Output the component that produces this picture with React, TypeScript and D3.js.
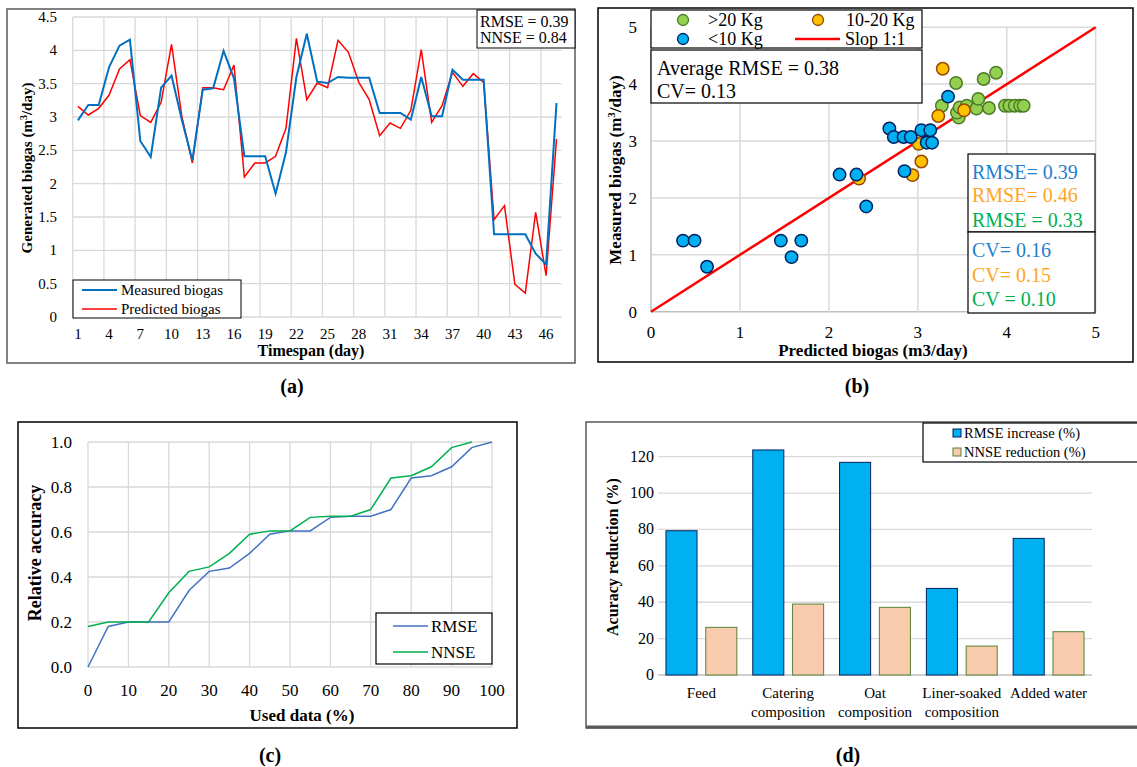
import * as d3 from "d3";

const FONT = "'Liberation Serif', 'Times New Roman', serif";
const GRID = "#d9d9d9";

// ---- (a) time series
const days = d3.range(1, 48);
const dayTicks = [1, 4, 7, 10, 13, 16, 19, 22, 25, 28, 31, 34, 37, 40, 43, 46];
const biogasTicks = [0, 0.5, 1, 1.5, 2, 2.5, 3, 3.5, 4, 4.5];
const measured = [
  2.95, 3.18, 3.18, 3.75, 4.07, 4.16, 2.64, 2.4, 3.44, 3.62,
  2.95, 2.35, 3.41, 3.43, 3.99, 3.58, 2.41, 2.41, 2.41, 1.85,
  2.47, 3.6, 4.25, 3.53, 3.51, 3.6, 3.59, 3.59, 3.59, 3.06,
  3.06, 3.06, 2.96, 3.6, 3.01, 3.01, 3.71, 3.56, 3.56, 3.56,
  1.24, 1.24, 1.24, 1.24, 0.95, 0.79, 3.21,
];
const predicted = [
  3.16, 3.03, 3.13, 3.33, 3.72, 3.86, 3.02, 2.92, 3.22, 4.09,
  3.0, 2.31, 3.44, 3.44, 3.41, 3.78, 2.1, 2.31, 2.31, 2.41,
  2.83, 4.18, 3.26, 3.51, 3.44, 4.15, 3.97, 3.52, 3.26, 2.72,
  2.91, 2.83, 3.1, 4.01, 2.92, 3.17, 3.67, 3.46, 3.65, 3.52,
  1.46, 1.67, 0.49, 0.36, 1.57, 0.62, 2.67,
];

// ---- (b) scatter [predicted, measured]
const over20: [number, number][] = [
  [3.27, 3.62], [3.43, 4.02], [3.74, 4.09], [3.88, 4.2], [3.46, 3.41],
  [3.44, 3.5], [3.47, 3.59], [3.55, 3.62], [3.66, 3.57], [3.68, 3.74],
  [3.8, 3.58], [3.98, 3.62], [4.03, 3.62], [4.09, 3.62], [4.15, 3.62], [4.19, 3.62],
];
const kg10to20: [number, number][] = [
  [3.28, 4.27], [3.23, 3.44], [3.52, 3.54], [3.01, 2.95], [3.04, 2.64],
  [2.94, 2.4], [2.34, 2.34],
];
const under10: [number, number][] = [
  [3.34, 3.78], [2.68, 3.22], [2.73, 3.07], [2.84, 3.07], [2.92, 3.07],
  [3.04, 3.19], [3.14, 3.19], [3.1, 2.97], [3.16, 2.97], [2.85, 2.47],
  [2.12, 2.41], [2.31, 2.41], [2.42, 1.85], [0.36, 1.25], [0.49, 1.25],
  [0.63, 0.79], [1.46, 1.25], [1.58, 0.96], [1.69, 1.25],
];
const scatterTicks = [0, 1, 2, 3, 4, 5];

// ---- (c) relative accuracy
const usedData = d3.range(0, 101, 5);
const rmseAcc = [0, 0.18, 0.2, 0.2, 0.2, 0.34, 0.425, 0.44, 0.505, 0.59, 0.605,
  0.605, 0.665, 0.67, 0.67, 0.7, 0.84, 0.85, 0.89, 0.975, 1.0];
const nnseAcc = [0.18, 0.2, 0.2, 0.2, 0.33, 0.425, 0.445, 0.505, 0.59, 0.605, 0.605,
  0.665, 0.67, 0.67, 0.7, 0.84, 0.85, 0.89, 0.975, 1.0];
const usedTicks = d3.range(0, 101, 10);
const accTicks = [0, 0.2, 0.4, 0.6, 0.8, 1.0];

// ---- (d) accuracy reduction
const factors = ["Feed", "Catering composition", "Oat composition", "Liner-soaked composition", "Added water"];
const factorLines = [["Feed"], ["Catering", "composition"], ["Oat", "composition"], ["Liner-soaked", "composition"], ["Added water"]];
const rmseIncrease = [79.3, 123.7, 116.9, 47.6, 75.1];
const nnseReduction = [26.2, 39.0, 37.2, 15.9, 23.8];
const reductionTicks = [0, 20, 40, 60, 80, 100, 120];

const PanelA = () => {
  const x = d3.scaleBand<number>().domain(days).range([72.7, 561.7]);
  const y = d3.scaleLinear().domain([0, 4.5]).range([317, 17]);
  const cx = (d: number) => (x(d) as number) + x.bandwidth() / 2;
  const line = d3.line<number>().x((_, i) => cx(days[i])).y((d) => y(d));
  return (
    <g fontFamily={FONT}>
      <rect x={7} y={9} width={568} height={354} fill="white" stroke="#595959" strokeWidth={1.5} />
      {biogasTicks.map((t) => (
        <g key={t}>
          <line x1={72.7} x2={561.7} y1={y(t)} y2={y(t)} stroke={GRID} strokeWidth={1.3} />
          <text x={57} y={y(t) + 5} textAnchor="end" fontSize={15}>{t}</text>
        </g>
      ))}
      {dayTicks.map((d) => (
        <g key={d}>
          <line x1={x(d)} x2={x(d)} y1={17} y2={317} stroke={GRID} strokeWidth={1.3} />
          <text x={cx(d)} y={339} textAnchor="middle" fontSize={15}>{d}</text>
        </g>
      ))}
      <path d={line(predicted) as string} fill="none" stroke="#ff0000" strokeWidth={1.5} />
      <path d={line(measured) as string} fill="none" stroke="#0070c0" strokeWidth={2} />
      <text x={311} y={356} textAnchor="middle" fontSize={16} fontWeight="bold">Timespan (day)</text>
      <text transform="translate(27,168) rotate(-90)" textAnchor="middle" dy="0.35em" fontSize={15} fontWeight="bold">
        Generated biogas (m<tspan dy={-5} fontSize={10}>3</tspan><tspan dy={5}>/day)</tspan>
      </text>
      <rect x={73} y={280} width={168} height={38} fill="white" stroke="black" strokeWidth={1} />
      <line x1={82} x2={117} y1={290} y2={290} stroke="#0070c0" strokeWidth={2} />
      <line x1={82} x2={117} y1={309} y2={309} stroke="#ff0000" strokeWidth={1.5} />
      <text x={121} y={295} fontSize={15}>Measured biogas</text>
      <text x={121} y={314} fontSize={15}>Predicted biogas</text>
      <rect x={477} y={10} width={98} height={38} fill="white" stroke="black" strokeWidth={1} />
      <text x={480} y={27} fontSize={16}>RMSE = 0.39</text>
      <text x={480} y={43} fontSize={16}>NNSE = 0.84</text>
      <text x={292} y={393} textAnchor="middle" fontSize={20} fontWeight="bold">(a)</text>
    </g>
  );
};

const PanelB = () => {
  const x = d3.scaleLinear().domain([0, 5]).range([651, 1095.7]);
  const y = d3.scaleLinear().domain([0, 5]).range([311.7, 27.2]);
  const groups = [
    { pts: over20, fill: "#92d050", stroke: "#4e7a27" },
    { pts: kg10to20, fill: "#ffc000", stroke: "#974806" },
    { pts: under10, fill: "#00b0f0", stroke: "#002060" },
  ];
  return (
    <g fontFamily={FONT}>
      <rect x={598} y={8} width={535} height={354} fill="white" stroke="black" strokeWidth={1.5} />
      {scatterTicks.map((t) => (
        <g key={t}>
          <line x1={x(0)} x2={x(5)} y1={y(t)} y2={y(t)} stroke={t === 0 ? "#bfbfbf" : GRID} strokeWidth={1.5} />
          <line x1={x(t)} x2={x(t)} y1={y(0)} y2={y(5)} stroke={t === 0 ? "#bfbfbf" : GRID} strokeWidth={1.5} />
          <text x={637} y={y(t) + 6} textAnchor="end" fontSize={17}>{t}</text>
          <text x={x(t)} y={338} textAnchor="middle" fontSize={17}>{t}</text>
        </g>
      ))}
      <line x1={x(0)} y1={y(0)} x2={x(5)} y2={y(5)} stroke="#ff0000" strokeWidth={2.5} />
      {groups.map((g, gi) =>
        g.pts.map((p, i) => (
          <circle key={`${gi}-${i}`} cx={x(p[0])} cy={y(p[1])} r={6.2} fill={g.fill} stroke={g.stroke} strokeWidth={1.5} />
        ))
      )}
      <text x={873} y={356} textAnchor="middle" fontSize={17} fontWeight="bold">Predicted biogas (m3/day)</text>
      <text transform="translate(615,170) rotate(-90)" textAnchor="middle" dy="0.35em" fontSize={17} fontWeight="bold">
        Measured biogas (m<tspan dy={-6} fontSize={11}>3</tspan><tspan dy={6}>/day)</tspan>
      </text>
      {/* legend */}
      <rect x={651} y={10} width={271} height={38} fill="white" stroke="black" strokeWidth={1.2} />
      <circle cx={683} cy={20} r={5.5} fill="#92d050" stroke="#4e7a27" strokeWidth={1.3} />
      <text x={708} y={26} fontSize={18}>&gt;20 Kg</text>
      <circle cx={818} cy={20} r={5.5} fill="#ffc000" stroke="#974806" strokeWidth={1.3} />
      <text x={846} y={26} fontSize={18}>10-20 Kg</text>
      <circle cx={683} cy={39} r={5.5} fill="#00b0f0" stroke="#002060" strokeWidth={1.3} />
      <text x={708} y={45} fontSize={18}>&lt;10 Kg</text>
      <line x1={795} x2={840} y1={39} y2={39} stroke="#ff0000" strokeWidth={2.5} />
      <text x={845} y={45} fontSize={18}>Slop 1:1</text>
      <rect x={651} y={50} width={271} height={53} fill="white" stroke="black" strokeWidth={1.2} />
      <text x={657} y={75} fontSize={20}>Average RMSE = 0.38</text>
      <text x={657} y={98} fontSize={20}>CV= 0.13</text>
      <rect x={968} y={154} width={127} height={78} fill="white" stroke="black" strokeWidth={1.2} />
      <text x={972} y={179} fontSize={20} fill="#1f7fd0">RMSE= 0.39</text>
      <text x={972} y={202} fontSize={20} fill="#ffa526">RMSE= 0.46</text>
      <text x={972} y={227} fontSize={20} fill="#00b050">RMSE = 0.33</text>
      <rect x={968} y={232} width={127} height={81} fill="white" stroke="black" strokeWidth={1.2} />
      <text x={972} y={257} fontSize={20} fill="#1f7fd0">CV= 0.16</text>
      <text x={972} y={282} fontSize={20} fill="#ffa526">CV= 0.15</text>
      <text x={972} y={306} fontSize={20} fill="#00b050">CV = 0.10</text>
      <text x={857} y={393} textAnchor="middle" fontSize={20} fontWeight="bold">(b)</text>
    </g>
  );
};

const PanelC = () => {
  const x = d3.scaleLinear().domain([0, 100]).range([88, 492]);
  const y = d3.scaleLinear().domain([0, 1]).range([667, 442]);
  const line = d3.line<number>().x((_, i) => x(usedData[i])).y((d) => y(d));
  return (
    <g fontFamily={FONT}>
      <rect x={18} y={422} width={499} height={306} fill="white" stroke="black" strokeWidth={1.5} />
      {accTicks.map((t) => (
        <g key={t}>
          <line x1={x(0)} x2={x(100)} y1={y(t)} y2={y(t)} stroke={GRID} strokeWidth={1.3} />
          <text x={72} y={y(t) + 6} textAnchor="end" fontSize={17}>{t.toFixed(1)}</text>
        </g>
      ))}
      {usedTicks.map((t) => (
        <g key={t}>
          <line x1={x(t)} x2={x(t)} y1={y(0)} y2={y(1)} stroke={GRID} strokeWidth={1.3} />
          <text x={x(t)} y={696} textAnchor="middle" fontSize={17}>{t}</text>
        </g>
      ))}
      <path d={line(rmseAcc) as string} fill="none" stroke="#4472c4" strokeWidth={1.5} />
      <path d={line(nnseAcc) as string} fill="none" stroke="#00b050" strokeWidth={1.5} />
      <text x={302} y={721} textAnchor="middle" fontSize={17} fontWeight="bold">Used data (%)</text>
      <text transform="translate(35,553) rotate(-90)" textAnchor="middle" dy="0.35em" fontSize={18} fontWeight="bold">Relative accuracy</text>
      <rect x={376} y={613} width={116} height={51} fill="white" stroke="black" strokeWidth={1.2} />
      <line x1={393} x2={428} y1={626} y2={626} stroke="#4472c4" strokeWidth={1.5} />
      <line x1={393} x2={428} y1={652} y2={652} stroke="#00b050" strokeWidth={1.5} />
      <text x={431} y={632} fontSize={17}>RMSE</text>
      <text x={431} y={658} fontSize={17}>NNSE</text>
      <text x={270} y={762} textAnchor="middle" fontSize={20} fontWeight="bold">(c)</text>
    </g>
  );
};

const PanelD = () => {
  const x = d3.scaleBand<string>().domain(factors).range([658, 1092]);
  const inner = d3.scaleBand<string>().domain(["rmse", "nnse"]).range([0, x.bandwidth()]).paddingInner(0.22).paddingOuter(0.2);
  const y = d3.scaleLinear().domain([0, 120]).range([675, 456.7]);
  return (
    <g fontFamily={FONT}>
      <rect x={586} y={422} width={560} height={306} fill="white" stroke="#404040" strokeWidth={1.3} />
      <line x1={586} x2={1137} y1={727} y2={727} stroke="#595959" strokeWidth={3} />
      {reductionTicks.map((t) => (
        <g key={t}>
          <line x1={658} x2={1092} y1={y(t)} y2={y(t)} stroke={t === 0 ? "#bfbfbf" : GRID} strokeWidth={1.3} />
          <text x={654} y={y(t) + 5} textAnchor="end" fontSize={16}>{t}</text>
        </g>
      ))}
      {factors.map((f, i) => (
        <g key={f} transform={`translate(${x(f)},0)`}>
          <rect x={inner("rmse")} y={y(rmseIncrease[i])} width={inner.bandwidth()} height={y(0) - y(rmseIncrease[i])}
            fill="#00b0f0" stroke="#002060" strokeWidth={1} />
          <rect x={inner("nnse")} y={y(nnseReduction[i])} width={inner.bandwidth()} height={y(0) - y(nnseReduction[i])}
            fill="#f8cbad" stroke="#548235" strokeWidth={1} />
          {factorLines[i].map((l, j) => (
            <text key={l} x={x.bandwidth() / 2} y={698 + j * 19} textAnchor="middle" fontSize={15}>{l}</text>
          ))}
        </g>
      ))}
      <text transform="translate(612,557) rotate(-90)" textAnchor="middle" dy="0.35em" fontSize={16} fontWeight="bold">Acuracy reduction (%)</text>
      <rect x={923} y={423} width={220} height={39} fill="white" stroke="black" strokeWidth={1.2} />
      <rect x={953} y={429} width={8} height={8} fill="#00b0f0" stroke="#002060" strokeWidth={1} />
      <text x={964} y={438} fontSize={14.5}>RMSE increase (%)</text>
      <rect x={953} y={448} width={8} height={8} fill="#f8cbad" stroke="#548235" strokeWidth={1} />
      <text x={964} y={457} fontSize={14.5}>NNSE reduction (%)</text>
      <text x={848} y={762} textAnchor="middle" fontSize={20} fontWeight="bold">(d)</text>
    </g>
  );
};

export default function App() {
  return (
    <svg width={1137} height={767} style={{ position: "absolute", left: 0, top: 0, background: "white" }}>
      <rect width={1137} height={767} fill="white" />
      <PanelA />
      <PanelB />
      <PanelC />
      <PanelD />
    </svg>
  );
}
